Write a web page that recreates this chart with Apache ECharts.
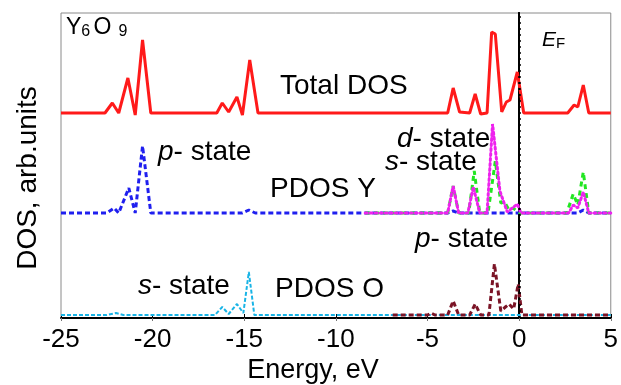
<!DOCTYPE html>
<html>
<head>
<meta charset="utf-8">
<script src="https://cdn.jsdelivr.net/npm/echarts@6.0.0/dist/echarts.min.js"></script>
<style>
    html, body { margin: 0; padding: 0; background: #fff; }
    #chart { width: 621px; height: 385px; }
</style>
</head>
<body>
<div id="chart"></div>
<script>
    // energy ticks
    var energyTicks = [-25, -20, -15, -10, -5, 0, 5];

    // [energy eV, DOS] pairs (arb. units)
    var totalDos = [
        [-25, 0], [-22.6, 0], [-22.2, 10], [-21.85, 0], [-21.35, 35], [-20.95, -2], [-20.55, 73], [-20.1, 0],
        [-16.5, 0], [-16.2, 10], [-15.85, 1], [-15.4, 16], [-15.1, -2], [-14.7, 53], [-14.25, 0],
        [-3.9, 0], [-3.6, 25], [-3.25, 1], [-2.7, 0], [-2.4, 19], [-2.1, -1], [-1.75, 0], [-1.5, 81], [-1.3, 79],
        [-0.95, 1], [-0.7, 11], [-0.5, 13], [-0.1, 41], [0.25, 0],
        [2.65, 0], [3.0, 8], [3.2, 6], [3.5, 28], [3.8, 0], [5, 0]
    ];
    var pdosYp = [
        [-25, 0], [-22.5, 0], [-22.1, 5], [-21.85, 0], [-21.3, 25], [-20.95, 0], [-20.55, 67], [-20.1, 0],
        [-15.1, 0], [-14.75, 3], [-14.4, 0], [-3.9, 0], [-3.6, 2], [-3.3, 0], [3.2, 0], [3.5, 3], [3.8, 0], [5, 0]
    ];
    var pdosYd = [
        [-8.4, 0], [-3.9, 0], [-3.6, 27], [-3.3, 0], [-2.8, 0], [-2.5, 26], [-2.15, 0], [-1.75, 0], [-1.45, 89],
        [-1.05, 22], [-0.65, 1], [-0.3, 6], [-0.1, 9], [0.1, 0],
        [2.7, 0], [2.95, 8], [3.2, 5], [3.5, 21], [3.8, 0], [5, 0]
    ];
    var pdosYs = [
        [-8.4, 0], [-3.9, 0], [-3.6, 27], [-3.3, 0], [-2.75, 0], [-2.45, 42], [-2.15, 0], [-1.7, 0], [-1.3, 52],
        [-1.0, 10], [-0.8, 11], [-0.55, 3], [-0.35, 5], [0.05, 0],
        [2.6, 0], [2.95, 19], [3.2, 8], [3.5, 41], [3.8, 0], [5, 0]
    ];
    var pdosOp = [
        [-6.9, 0], [-5.0, 0], [-4.8, 2], [-4.6, 0], [-3.9, 0], [-3.6, 14], [-3.3, 0], [-2.7, 0], [-2.4, 11],
        [-2.1, 0], [-1.65, 0], [-1.35, 51], [-1.0, 4], [-0.75, 8], [-0.55, 11], [-0.3, 6], [-0.05, 31], [0.15, 0], [5, 0]
    ];
    var pdosOs = [
        [-25, 0], [-22.5, 0], [-22.0, 2], [-21.6, 0], [-16.6, 0], [-16.2, 8], [-15.85, 1], [-15.4, 11],
        [-15.05, 2], [-14.75, 43], [-14.45, 0], [5, 0]
    ];

    // vertical offsets of the three stacked panels
    var offTotal = 205, offY = 105, offO = 3;

    function shift(arr, off) {
        return arr.map(function (p) { return [p[0], p[1] + off]; });
    }

    var font = '"Liberation Sans", Arial, sans-serif';
    var fs = 28;

    function txt(x, y, text, size) {
        return {
            type: 'text', left: x, top: y - size / 2 - 1,
            style: { text: text, fill: '#000', font: size + 'px ' + font }
        };
    }
    function stateTxt(x, y, letter, size) {
        return {
            type: 'text', left: x, top: y - size / 2 - 1,
            style: {
                text: '{i|' + letter + '}{n|- state}',
                rich: {
                    i: { fontSize: size, fontStyle: 'italic', fontFamily: font, fill: '#000' },
                    n: { fontSize: size, fontFamily: font, fill: '#000' }
                }
            }
        };
    }

    var myChart = echarts.init(document.getElementById('chart'));
    var option = {
        animation: false,
        grid: {
            left: 61, right: 1, top: 13, bottom: 67,
            show: true, borderColor: '#8a8a8a', borderWidth: 1
        },
        xAxis: [
            {
                type: 'value', min: -25, max: 5, interval: 5,
                axisLine: { lineStyle: { color: '#000', width: 2 } },
                axisTick: { inside: true, length: 4, lineStyle: { color: '#000' } },
                splitLine: { show: false },
                axisLabel: {
                    fontSize: 26, fontFamily: font, color: '#000', margin: 9,
                    showMinLabel: true, showMaxLabel: true,
                    formatter: function (v) { return energyTicks.indexOf(v) >= 0 ? String(v) : ''; }
                }
            },
            {
                type: 'value', position: 'top', min: -25, max: 5, interval: 5,
                axisLine: { show: false },
                axisTick: { inside: true, length: 3, lineStyle: { color: '#777' } },
                axisLabel: { show: false },
                splitLine: { show: false }
            }
        ],
        yAxis: [
            {
                type: 'value', min: 0, max: 305,
                axisLine: { show: true, lineStyle: { color: '#000', width: 2 } },
                axisTick: { show: false }, axisLabel: { show: false }, splitLine: { show: false }
            },
            {
                type: 'value', position: 'right', min: 0, max: 305,
                axisLine: { show: true, lineStyle: { color: '#000', width: 2 } },
                axisTick: { show: false }, axisLabel: { show: false }, splitLine: { show: false }
            }
        ],
        series: [
            {
                name: 'O s', type: 'line', symbol: 'none', data: shift(pdosOs, offO),
                lineStyle: { color: '#19b4e6', width: 2, type: [4, 2] }
            },
            {
                name: 'O p', type: 'line', symbol: 'none', data: shift(pdosOp, offO),
                lineStyle: { color: '#7b1426', width: 3, type: [5, 3] }
            },
            {
                name: 'Y p', type: 'line', symbol: 'none', data: shift(pdosYp, offY),
                lineStyle: { color: '#1f1fef', width: 3, type: [5, 3] }
            },
            {
                name: 'Y s', type: 'line', symbol: 'none', data: shift(pdosYs, offY),
                lineStyle: { color: '#22e622', width: 3, type: [5, 4] }
            },
            {
                name: 'Y d', type: 'line', symbol: 'none', data: shift(pdosYd, offY),
                lineStyle: { color: '#ee22ee', width: 3, type: [2, 3], cap: 'round' }
            },
            {
                name: 'Total', type: 'line', symbol: 'none', data: shift(totalDos, offTotal),
                lineStyle: { color: '#ff1a1a', width: 3 },
                markLine: {
                    silent: true, symbol: 'none', label: { show: false },
                    lineStyle: { color: '#000', width: 2.5, type: [2, 4] },
                    data: [{ xAxis: 0 }]
                }
            }
        ],
        graphic: [
            {
                type: 'text', left: 66, top: 16,
                style: {
                    text: '{b|Y}{s|6} {b|O}{t|9}',
                    rich: {
                        b: { fontSize: 23, fontFamily: font, fill: '#000' },
                        s: { fontSize: 16, fontFamily: font, fill: '#000', padding: [8, 0, 0, 0] },
                        t: { fontSize: 16, fontFamily: font, fill: '#000', padding: [8, 0, 0, 7] }
                    }
                }
            },
            {
                type: 'text', left: 542, top: 30,
                style: {
                    text: '{e|E}{f|F}',
                    rich: {
                        e: { fontSize: 21, fontStyle: 'italic', fontFamily: font, fill: '#000' },
                        f: { fontSize: 15, fontFamily: font, fill: '#000', padding: [6, 0, 0, 0] }
                    }
                }
            },
            txt(280, 87, 'Total DOS', fs),
            stateTxt(158, 153, 'p', fs),
            txt(270, 190, 'PDOS Y', fs),
            stateTxt(397, 140, 'd', fs),
            stateTxt(385, 163, 's', fs),
            stateTxt(415, 240, 'p', fs),
            stateTxt(138, 287, 's', fs),
            txt(275, 290, 'PDOS O', fs),
            {
                type: 'text', x: 28, y: 178, rotation: Math.PI / 2,
                style: {
                    text: 'DOS, arb.units', fill: '#000', font: '28px ' + font,
                    align: 'center', verticalAlign: 'middle'
                }
            },
            {
                type: 'text', x: 313, y: 371,
                style: {
                    text: 'Energy, eV', fill: '#000', font: '27px ' + font,
                    align: 'center', verticalAlign: 'middle'
                }
            }
        ]
    };
    myChart.setOption(option);
</script>
</body>
</html>
